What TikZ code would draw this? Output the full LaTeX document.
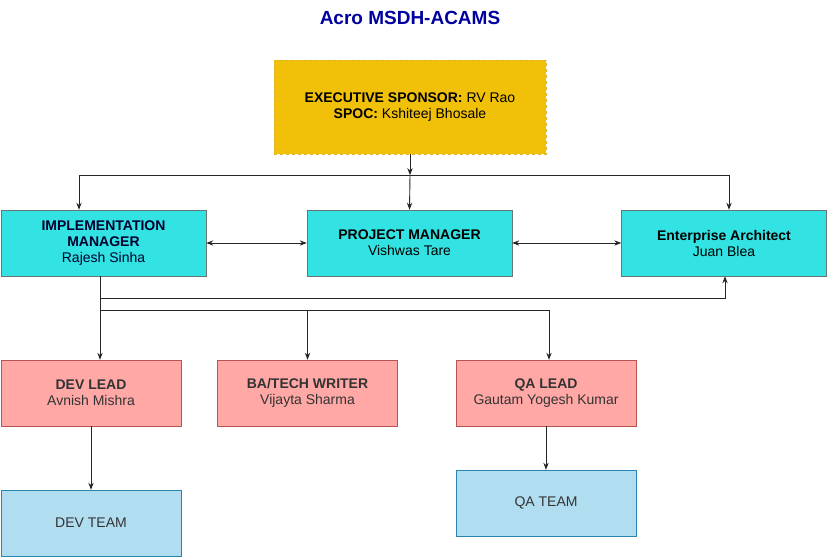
\documentclass[tikz,border=0pt]{standalone}
\usepackage{fontspec}
\setmainfont{Liberation Sans}
\usetikzlibrary{arrows.meta}
\definecolor{gold}{HTML}{F1C109}
\definecolor{goldline}{HTML}{D9B43C}
\definecolor{cyanbox}{HTML}{33E2E2}
\definecolor{cyanline}{HTML}{6A7676}
\definecolor{pinkbox}{HTML}{FFA8A6}
\definecolor{pinkline}{HTML}{B85450}
\definecolor{bluebox}{HTML}{B1DDF0}
\definecolor{blueline}{HTML}{2A86AE}
\definecolor{titleblue}{HTML}{0000A0}
\tikzset{>=Stealth,
  box/.style={minimum width=205pt,minimum height=66pt,inner sep=0pt,align=center,
    font=\fontsize{14}{16}\selectfont},
  role/.style={box,fill=cyanbox,draw=cyanline},
  lead/.style={box,minimum width=180pt,fill=pinkbox,draw=pinkline,text=black!80},
  team/.style={box,minimum width=180pt,fill=bluebox,draw=blueline,text=black!80},
  link/.style={->,black!85,line width=0.9pt}}

\begin{document}
\begin{tikzpicture}[x=1pt,y=-1pt]
\useasboundingbox (0,0) rectangle (827,557);
\node (title) at (410,18) {\fontsize{19}{22}\selectfont\bfseries\color{titleblue}Acro MSDH-ACAMS};

\node[box,minimum width=272pt,minimum height=94pt,fill=gold,draw=goldline,dashed] (exec) at (410,107)
  {\textbf{EXECUTIVE SPONSOR:} RV Rao\\ \textbf{SPOC:} Kshiteej Bhosale};

\node[role,text=black!70!blue!60!black] (impl) at (103.5,243) {\textbf{IMPLEMENTATION}\\ \textbf{MANAGER}\\ Rajesh Sinha};
\node[role] (pm) at (409.5,243) {\textbf{PROJECT MANAGER}\\ Vishwas Tare};
\node[role] (ea) at (724,243) {\textbf{Enterprise Architect}\\ Juan Blea};

\node[lead] (dev) at (91,393) {\textbf{DEV LEAD}\\ Avnish Mishra};
\node[lead] (ba) at (307.5,393) {\textbf{BA/TECH WRITER}\\ Vijayta Sharma};
\node[lead] (qa) at (546,393) {\textbf{QA LEAD}\\ Gautam Yogesh Kumar};

\node[team] (devteam) at (91,523) {DEV TEAM};
\node[team] (qateam) at (546,503) {QA TEAM};

% sponsor to the three managers
\coordinate (bus) at ([yshift=-21]exec.south);
\draw[link] (exec.south) -- (bus);
\draw[link] (bus) -| ([xshift=-24.5]impl.north);
\draw[link] (bus) -- (pm.north);
\draw[link] (bus) -| ([xshift=5]ea.north);

\draw[<->,black!85,line width=0.9pt] (impl) -- (pm);
\draw[<->,black!85,line width=0.9pt] (pm) -- (ea);

% implementation manager to architect and leads
\coordinate (tap) at ([xshift=-3.5,yshift=-34]impl.south);
\draw[link] ([xshift=-3.5]impl.south) -- ++(0,22) -| ([xshift=1]ea.south);
\draw[link] ([xshift=-3.5]impl.south) -- ([xshift=9]dev.north);
\draw[link] (tap) -| ([xshift=3]qa.north);
\draw[link] (tap -| ba.north) -- (ba.north);

\draw[link] (dev) -- (devteam);
\draw[link] (qa) -- (qateam);
\end{tikzpicture}
\end{document}
